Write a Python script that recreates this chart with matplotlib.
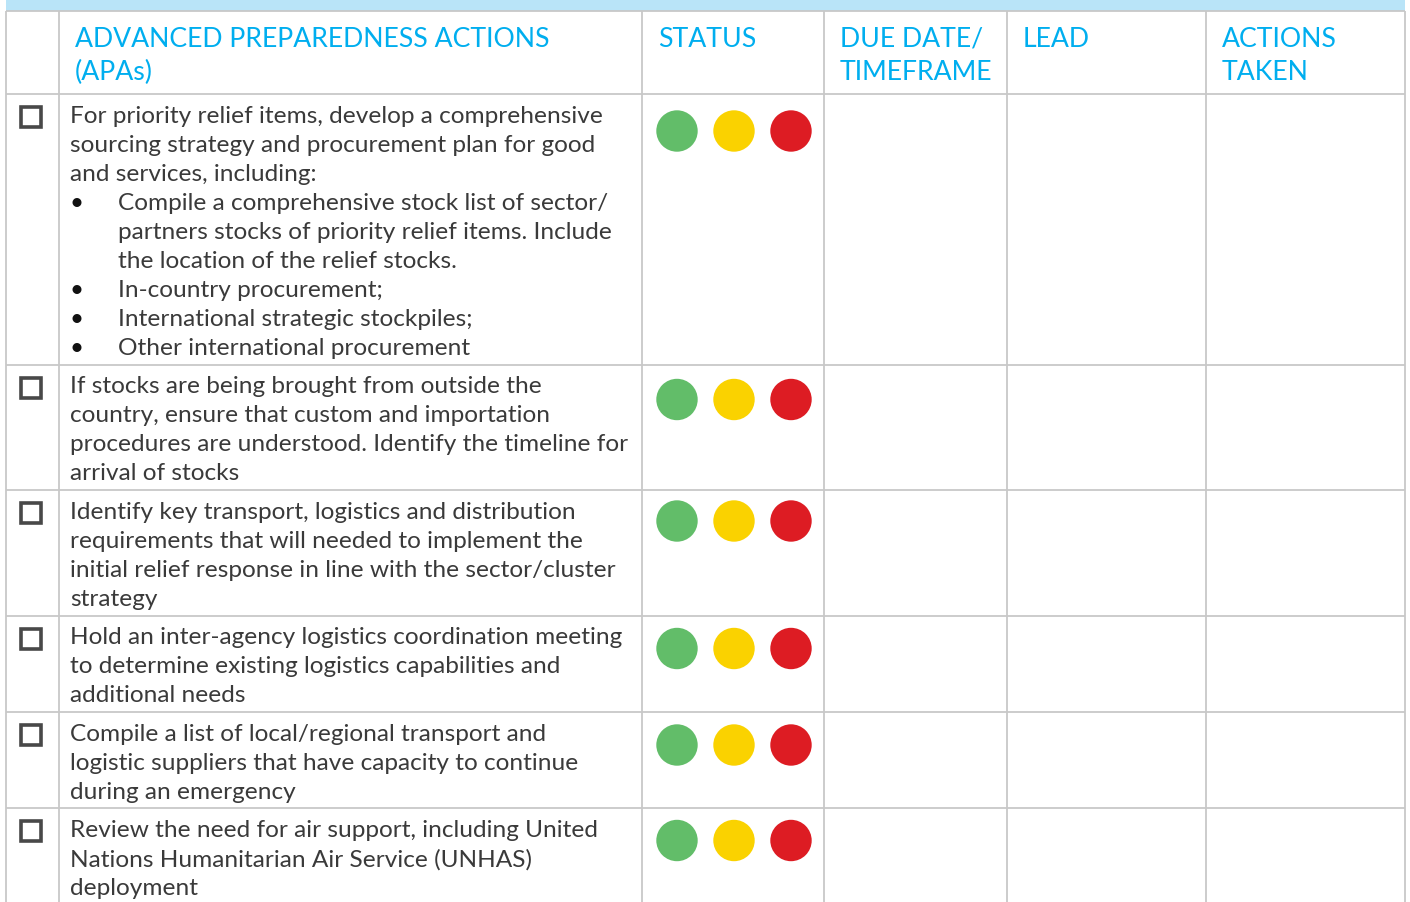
import matplotlib.pyplot as plt
from matplotlib.patches import Circle, Rectangle

plt.rcParams['font.family'] = ['Lato', 'DejaVu Sans']

headers = [
    ['ADVANCED PREPAREDNESS ACTIONS', '(APAs)'],
    ['STATUS'],
    ['DUE DATE/', 'TIMEFRAME'],
    ['LEAD'],
    ['ACTIONS', 'TAKEN'],
]

# each action: list of text lines, lines starting with '•' are bullet points
actions = [
    ['For priority relief items, develop a comprehensive',
     'sourcing strategy and procurement plan for good',
     'and services, including:',
     '•Compile a comprehensive stock list of sector/',
     ' partners stocks of priority relief items. Include',
     ' the location of the relief stocks.',
     '•In-country procurement;',
     '•International strategic stockpiles;',
     '•Other international procurement'],
    ['If stocks are being brought from outside the',
     'country, ensure that custom and importation',
     'procedures are understood. Identify the timeline for',
     'arrival of stocks'],
    ['Identify key transport, logistics and distribution',
     'requirements that will needed to implement the',
     'initial relief response in line with the sector/cluster',
     'strategy'],
    ['Hold an inter-agency logistics coordination meeting',
     'to determine existing logistics capabilities and',
     'additional needs'],
    ['Compile a list of local/regional transport and',
     'logistic suppliers that have capacity to continue',
     'during an emergency'],
    ['Review the need for air support, including United',
     'Nations Humanitarian Air Service (UNHAS)',
     'deployment'],
]

status_colors = ['#62bd69', '#fad200', '#dd1c23']

W, H = 1410, 903
col_x = [6, 59, 642, 824, 1007, 1206, 1405]
header_top, header_bottom = 12, 95
line_h = 29
grid = '#c8c8c8'
blue = '#00aeef'
text_col = '#3a3a3a'
fs = 17.6
# vertical offset of the status dots below each row's top line
dot_offsets = [37, 35, 31, 33, 33, 32]

fig = plt.figure(figsize=(W / 100, H / 100), dpi=100)
ax = fig.add_axes([0, 0, 1, 1])
ax.set_xlim(0, W)
ax.set_ylim(H, 0)
ax.axis('off')

# top band
ax.add_patch(Rectangle((col_x[0], 0), col_x[-1] - col_x[0], header_top,
                       facecolor='#b9e4f8', edgecolor='none'))

# header text
for i, lines in enumerate(headers):
    x = col_x[i + 1] + 16
    for j, t in enumerate(lines):
        ax.text(x, 47 + j * 33, t, color=blue, fontsize=19.2, va='baseline', ha='left')

# rows
tops = [header_bottom]
for lines in actions:
    tops.append(tops[-1] + len(lines) * line_h + 9.5)

for r, lines in enumerate(actions):
    top = tops[r]
    # checkbox
    ax.add_patch(Rectangle((21, top + 13), 20, 20, facecolor='none',
                           edgecolor='#484848', lw=2.6))
    for j, t in enumerate(lines):
        y = top + 28 + j * line_h
        if t.startswith('•'):
            ax.text(76, y, '•', color='#111111', fontsize=fs, va='baseline', ha='center')
            ax.text(118, y, t[1:], color=text_col, fontsize=fs, va='baseline')
        elif t.startswith(' '):
            ax.text(118, y, t[1:], color=text_col, fontsize=fs, va='baseline')
        else:
            ax.text(70, y, t, color=text_col, fontsize=fs, va='baseline')
    for k, c in enumerate(status_colors):
        ax.add_patch(Circle((677 + k * 57, top + dot_offsets[r]), 20.7,
                            facecolor=c, edgecolor='none'))

# grid lines
for y in [header_top] + tops:
    ax.plot([col_x[0], col_x[-1]], [y, y], color=grid, lw=1.3, solid_capstyle='butt')
for x in col_x:
    ax.plot([x, x], [header_top, H], color=grid, lw=1.3, solid_capstyle='butt')

fig.savefig('out.png', dpi=100)
